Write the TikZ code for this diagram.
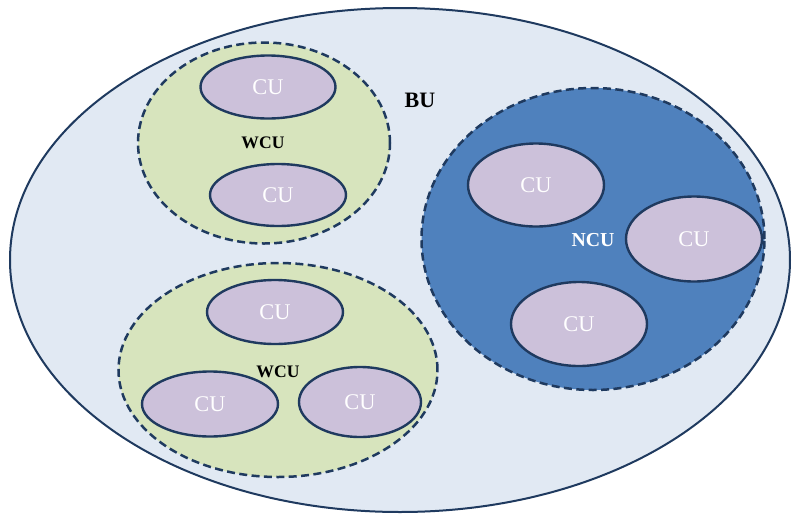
\documentclass[tikz,border=0pt]{standalone}
\usepackage{fontspec}
\setmainfont{Liberation Serif}
\usetikzlibrary{shapes.geometric}
\definecolor{buFill}{HTML}{E1E9F3}
\definecolor{wcuFill}{HTML}{D7E4BD}
\definecolor{ncuFill}{HTML}{4F81BD}
\definecolor{cuFill}{HTML}{CCC1DA}
\definecolor{rim}{HTML}{1F3A5F}

\begin{document}
\begin{tikzpicture}[x=0.5pt,y=-0.5pt,
            unit/.style={ellipse,inner sep=0pt,draw=rim},
            group/.style={unit,line width=1.25pt,dash pattern=on 4pt off 2.2pt},
            cu/.style={unit,fill=cuFill,line width=1.2pt,text=white,font=\fontsize{11.2}{13}\selectfont}]
            \useasboundingbox (0,0) rectangle (800,521);
            % outer unit
            \node[unit,fill=buFill,line width=1pt,minimum width=390pt,minimum height=252pt] (bu) at (400,260) {};
            \node[font=\bfseries\fontsize{11}{13}\selectfont] (bulabel) at (420,100) {BU};
            % upper WCU
            \node[group,fill=wcuFill,minimum width=126pt,minimum height=100.5pt] (wcuA) at (264,143) {};
            \node[cu,minimum width=67.5pt,minimum height=31.5pt] (cuA1) at (268,87) {CU};
            \node[cu,minimum width=68pt,minimum height=31pt] (cuA2) at (278,195) {CU};
            \node[font=\bfseries\fontsize{8.8}{10}\selectfont] (wcuAlabel) at (263,143) {WCU};
            % lower WCU
            \node[group,fill=wcuFill,minimum width=159.5pt,minimum height=107pt] (wcuB) at (278,370) {};
            \node[cu,minimum width=68pt,minimum height=32pt] (cuB1) at (275,312) {CU};
            \node[cu,minimum width=68pt,minimum height=32.5pt] (cuB2) at (210,404) {CU};
            \node[cu,minimum width=61pt,minimum height=35pt] (cuB3) at (360,402) {CU};
            \node[font=\bfseries\fontsize{8.8}{10}\selectfont] (wcuBlabel) at (278,372) {WCU};
            % NCU
            \node[group,fill=ncuFill,minimum width=171.5pt,minimum height=151pt] (ncu) at (593,239) {};
            \node[cu,minimum width=68pt,minimum height=41.5pt] (cuC1) at (536,185) {CU};
            \node[cu,minimum width=68pt,minimum height=42.5pt] (cuC2) at (694,239) {CU};
            \node[cu,minimum width=68pt,minimum height=42pt] (cuC3) at (579,324) {CU};
            \node[text=white,font=\bfseries\fontsize{9.9}{11}\selectfont] (nculabel) at (593,240) {NCU};
        \end{tikzpicture}
\end{document}
